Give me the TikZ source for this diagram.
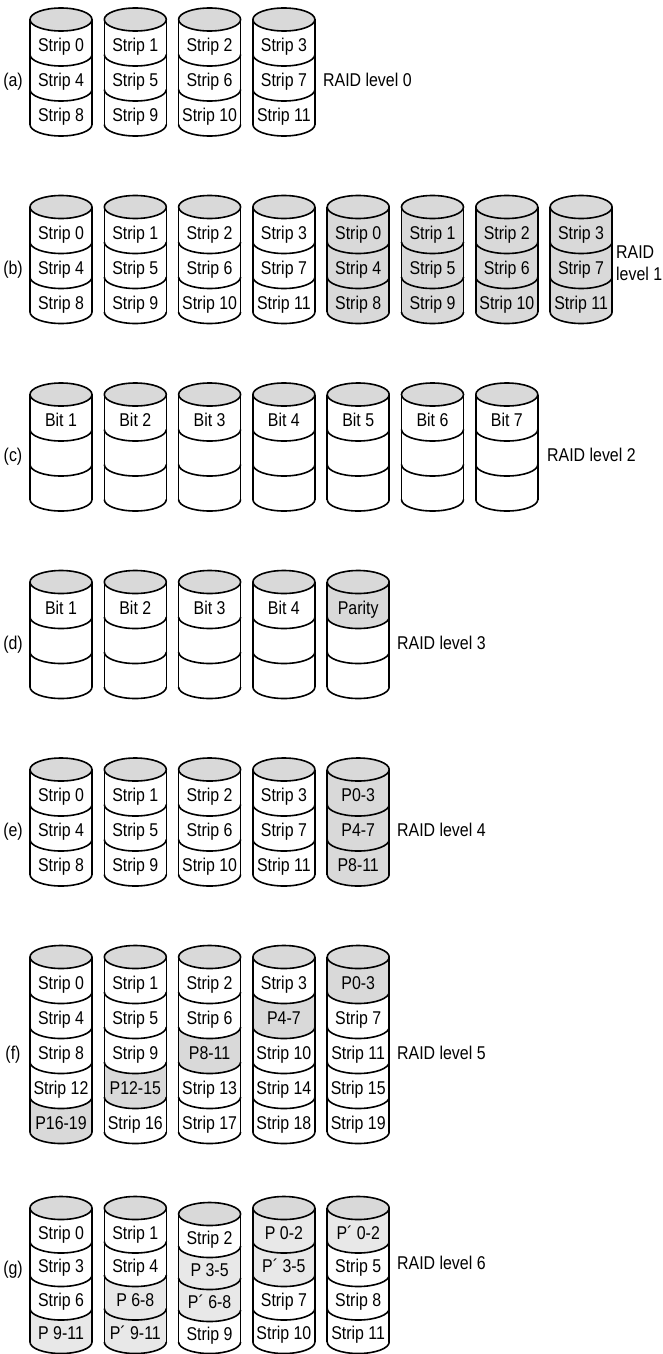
\documentclass[tikz,border=0pt]{standalone}
\usepackage{fontspec}
\setmainfont{Liberation Sans}[FakeStretch=0.86]
\definecolor{tg}{gray}{0.85}
\definecolor{pg}{gray}{0.85}
\definecolor{lg}{gray}{0.91}
\tikzset{
  lbl/.style={inner sep=0pt, font=\fontsize{18.5}{22}\selectfont},
  outl/.style={line width=1.6pt, line join=round},
}
\newcommand\rx{31}
\newcommand\ry{11.5}
\newcommand\toff{8}
% \rdisk{name}{cx}{y0}{pitch}{n}{list of fill/text}
\newcommand\rdisk[6]{%
 \begin{scope}[shift={(#2,-#3)}]
  \foreach [count=\k] \s/\t in {#6} {
    \fill[\s] (-\rx,{-(\k-1)*#4}) arc[start angle=180,end angle=360,x radius=\rx,y radius=\ry] -- (\rx,{-\k*#4}) arc[start angle=0,end angle=-180,x radius=\rx,y radius=\ry] -- cycle;
    \node[lbl,anchor=base] (#1-\k) at (0,{-(\k-0.5)*#4-\toff-6.5}) {\t};
  }
  \draw[outl,fill=tg] (0,0) ellipse[x radius=\rx,y radius=\ry];
  \foreach \k in {1,...,#5}
    \draw[outl] (-\rx,{-\k*#4}) arc[start angle=180,end angle=360,x radius=\rx,y radius=\ry];
  \draw[outl] (-\rx,0) -- (-\rx,{-#5*#4}) (\rx,0) -- (\rx,{-#5*#4});
 \end{scope}}
\begin{document}
\begin{tikzpicture}[x=1pt,y=1pt]
\useasboundingbox (0,0) rectangle (663,-1354);
% (a)
\rdisk{a1}{61}{19.5}{35}{3}{white/Strip 0,white/Strip 4,white/Strip 8}
\rdisk{a2}{135.3}{19.5}{35}{3}{white/Strip 1,white/Strip 5,white/Strip 9}
\rdisk{a3}{209.6}{19.5}{35}{3}{white/Strip 2,white/Strip 6,white/Strip 10}
\rdisk{a4}{283.9}{19.5}{35}{3}{white/Strip 3,white/Strip 7,white/Strip 11}
\node[lbl,anchor=base] (la) at (13,-86.5) {(a)};
\node[lbl,anchor=base west] (ra) at (323,-86.5) {RAID level 0};
% (b)
\rdisk{b1}{61}{207}{35}{3}{white/Strip 0,white/Strip 4,white/Strip 8}
\rdisk{b2}{135.3}{207}{35}{3}{white/Strip 1,white/Strip 5,white/Strip 9}
\rdisk{b3}{209.6}{207}{35}{3}{white/Strip 2,white/Strip 6,white/Strip 10}
\rdisk{b4}{283.9}{207}{35}{3}{white/Strip 3,white/Strip 7,white/Strip 11}
\rdisk{b5}{358.2}{207}{35}{3}{pg/Strip 0,pg/Strip 4,pg/Strip 8}
\rdisk{b6}{432.5}{207}{35}{3}{pg/Strip 1,pg/Strip 5,pg/Strip 9}
\rdisk{b7}{506.8}{207}{35}{3}{pg/Strip 2,pg/Strip 6,pg/Strip 10}
\rdisk{b8}{581.1}{207}{35}{3}{pg/Strip 3,pg/Strip 7,pg/Strip 11}
\node[lbl,anchor=base] (lb) at (13,-274) {(b)};
\node[lbl,anchor=west,align=left] (rb) at (616,-263) {RAID\\level 1};
% (c)
\rdisk{c1}{61}{394.5}{35}{3}{white/Bit 1,white/{},white/{}}
\rdisk{c2}{135.3}{394.5}{35}{3}{white/Bit 2,white/{},white/{}}
\rdisk{c3}{209.6}{394.5}{35}{3}{white/Bit 3,white/{},white/{}}
\rdisk{c4}{283.9}{394.5}{35}{3}{white/Bit 4,white/{},white/{}}
\rdisk{c5}{358.2}{394.5}{35}{3}{white/Bit 5,white/{},white/{}}
\rdisk{c6}{432.5}{394.5}{35}{3}{white/Bit 6,white/{},white/{}}
\rdisk{c7}{506.8}{394.5}{35}{3}{white/Bit 7,white/{},white/{}}
\node[lbl,anchor=base] (lc) at (13,-461.5) {(c)};
\node[lbl,anchor=base west] (rc) at (547,-461.5) {RAID level 2};
% (d)
\rdisk{d1}{61}{582}{35}{3}{white/Bit 1,white/{},white/{}}
\rdisk{d2}{135.3}{582}{35}{3}{white/Bit 2,white/{},white/{}}
\rdisk{d3}{209.6}{582}{35}{3}{white/Bit 3,white/{},white/{}}
\rdisk{d4}{283.9}{582}{35}{3}{white/Bit 4,white/{},white/{}}
\rdisk{d5}{358.2}{582}{35}{3}{pg/Parity,white/{},white/{}}
\node[lbl,anchor=base] (ld) at (13,-649) {(d)};
\node[lbl,anchor=base west] (rd) at (397,-649) {RAID level 3};
% (e)
\rdisk{e1}{61}{769.5}{35}{3}{white/Strip 0,white/Strip 4,white/Strip 8}
\rdisk{e2}{135.3}{769.5}{35}{3}{white/Strip 1,white/Strip 5,white/Strip 9}
\rdisk{e3}{209.6}{769.5}{35}{3}{white/Strip 2,white/Strip 6,white/Strip 10}
\rdisk{e4}{283.9}{769.5}{35}{3}{white/Strip 3,white/Strip 7,white/Strip 11}
\rdisk{e5}{358.2}{769.5}{35}{3}{pg/P0-3,pg/P4-7,pg/P8-11}
\node[lbl,anchor=base] (le) at (13,-836.5) {(e)};
\node[lbl,anchor=base west] (re) at (397,-836.5) {RAID level 4};
% (f)
\rdisk{f1}{61}{957}{35}{5}{white/Strip 0,white/Strip 4,white/Strip 8,white/Strip 12,pg/P16-19}
\rdisk{f2}{135.3}{957}{35}{5}{white/Strip 1,white/Strip 5,white/Strip 9,pg/P12-15,white/Strip 16}
\rdisk{f3}{209.6}{957}{35}{5}{white/Strip 2,white/Strip 6,pg/P8-11,white/Strip 13,white/Strip 17}
\rdisk{f4}{283.9}{957}{35}{5}{white/Strip 3,pg/P4-7,white/Strip 10,white/Strip 14,white/Strip 18}
\rdisk{f5}{358.2}{957}{35}{5}{pg/P0-3,white/Strip 7,white/Strip 11,white/Strip 15,white/Strip 19}
\node[lbl,anchor=base] (lf) at (13,-1059) {(f)};
\node[lbl,anchor=base west] (rf) at (397,-1059) {RAID level 5};
% (g)
\rdisk{g1}{61}{1208}{33.5}{4}{white/Strip 0,white/Strip 3,white/Strip 6,lg/P 9-11}
\rdisk{g2}{135.3}{1208}{33.5}{4}{white/Strip 1,white/Strip 4,lg/P 6-8,lg/P´ 9-11}
\rdisk{g3}{209.6}{1214}{32}{4}{white/Strip 2,lg/P 3-5,lg/P´ 6-8,white/Strip 9}
\rdisk{g4}{283.9}{1208}{33.5}{4}{lg/P 0-2,lg/P´ 3-5,white/Strip 7,white/Strip 10}
\rdisk{g5}{358.2}{1208}{33.5}{4}{lg/P´ 0-2,white/Strip 5,white/Strip 8,white/Strip 11}
\node[lbl,anchor=base] (lg) at (13,-1274.5) {(g)};
\node[lbl,anchor=base west] (rg) at (397,-1269.5) {RAID level 6};
\end{tikzpicture}
\end{document}
